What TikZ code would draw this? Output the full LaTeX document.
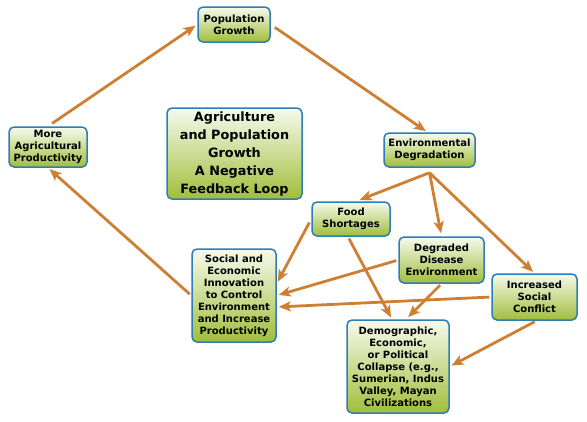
\documentclass[tikz,border=0pt]{standalone}
\usepackage{fontspec}
\setsansfont{DejaVu Sans}
\usepackage{tikz}
\usetikzlibrary{arrows.meta,positioning,calc}

\definecolor{boxline}{RGB}{46,125,180}
\definecolor{boxtop}{RGB}{247,250,238}
\definecolor{boxbot}{RGB}{160,190,58}
\definecolor{flowcol}{RGB}{205,128,50}

\begin{document}
\begin{tikzpicture}[x=1pt, y=-1pt,
  cbox/.style={draw=boxline, line width=1.5pt, rounded corners=5pt,
    top color=boxtop, bottom color=boxbot, align=center, inner sep=0pt,
    font=\sffamily\bfseries\fontsize{10}{12}\selectfont},
  tbox/.style={cbox, font=\sffamily\bfseries\fontsize{12.8}{18}\selectfont},
  flow/.style={-{Stealth[length=12pt, width=10pt, inset=3pt]}, draw=flowcol,
    line width=2.8pt, shorten <=2pt, shorten >=2pt},
]
\useasboundingbox (0,0) rectangle (587,421);

%==================== LOOP: kiri dan atas ====================
\node[cbox, minimum width=72pt, minimum height=35pt] (pop) at (234,24.5)
  {Population\\Growth};
\node[cbox, minimum width=78pt, minimum height=40pt] (agri) at (48,147)
  {More\\Agricultural\\Productivity};
\node[tbox, minimum width=135pt, minimum height=91pt] (title) at (234.5,153.5)
  {Agriculture\\and Population\\Growth\\A Negative\\Feedback Loop};
\node[cbox, minimum width=84pt, minimum height=93pt] (innov) at (234,295.5)
  {Social and\\Economic\\Innovation\\to Control\\Environment\\and Increase\\Productivity};

%==================== AKIBAT: kanan ====================
\node[cbox, minimum width=91pt, minimum height=34pt] (env) at (429.5,150)
  {Environmental\\Degradation};
\node[cbox, minimum width=78pt, minimum height=34pt] (food) at (351,219)
  {Food\\Shortages};
\node[cbox, minimum width=85pt, minimum height=46pt] (disease) at (441.5,260)
  {Degraded\\Disease\\Environment};
\node[cbox, minimum width=85pt, minimum height=46pt] (conflict) at (534.5,297)
  {Increased\\Social\\Conflict};
\node[cbox, minimum width=102pt, minimum height=93pt] (collapse) at (398,366.5)
  {Demographic,\\Economic,\\or Political\\Collapse (e.g.,\\Sumerian, Indus\\Valley, Mayan\\Civilizations};

\coordinate (envout) at ([yshift=-5pt]env.south);

%==================== PANAH ====================
% loop utama
\draw[flow, shorten <=5pt] (agri.north) -- (pop.west);
\draw[flow, shorten <=5pt] (pop.east) -- ([xshift=-2pt]env.north);
\draw[flow] (innov.west) -- (agri.south);

% dari degradasi lingkungan
\draw[flow, shorten <=0pt, shorten >=4pt] (envout) -- ([xshift=5pt]food.north);
\draw[flow, shorten <=0pt, shorten >=3pt] (envout) -- (disease.north);
\draw[flow, shorten <=0pt] (envout) -- (conflict.north);

% ke inovasi sosial
\draw[flow, shorten <=4pt] (food.west) -- ([yshift=12pt]innov.east);
\draw[flow] (disease.west) -- (innov.east);
\draw[flow] (conflict.west) -- ([yshift=-11.5pt]innov.east);

% ke keruntuhan
\draw[flow] ([xshift=-3pt]food.south) -- ([xshift=-6pt]collapse.north);
\draw[flow, shorten >=3pt] (disease.south) -- ([xshift=8pt]collapse.north);
\draw[flow] ([xshift=2pt]conflict.south) -- (collapse.east);

\end{tikzpicture}
\end{document}
